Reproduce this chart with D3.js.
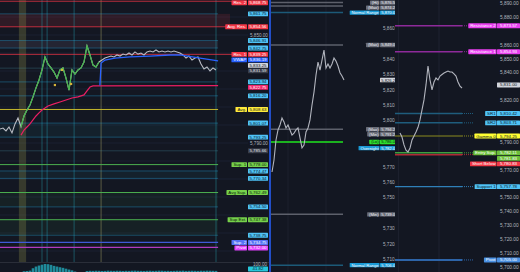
<!DOCTYPE html>
<html>
<head>
<meta charset="utf-8">
<script src="https://cdn.jsdelivr.net/npm/d3@7"></script>
<style>
  body { margin: 0; background: #131722; }
  svg { display: block; }
  text { font-family: "Liberation Sans", Arial, sans-serif; }
</style>
</head>
<body>
<svg id="chart" width="520" height="272"></svg>
<script>
// ---- data ----

// left panel: closes per bar
const p1Price = [5797.8, 5798.3, 5796.7, 5798.9, 5795.6, 5800.6, 5803.9, 5799.0, 5805.0, 5808.3,
  5811.1, 5815.6, 5820.6, 5825.0, 5830.6, 5837.8, 5833.9, 5831.7, 5829.4, 5826.1,
  5830.6, 5831.7, 5826.1, 5819.4, 5830.6, 5828.3, 5830.6, 5831.7, 5835.0, 5843.9,
  5838.9, 5833.3, 5832.2, 5835.0, 5836.1, 5837.2, 5837.8, 5838.3, 5837.8, 5838.9,
  5838.3, 5839.4, 5838.9, 5840.0, 5838.9, 5840.6, 5839.4, 5840.0, 5838.9, 5840.6,
  5841.1, 5840.6, 5841.7, 5840.6, 5841.1, 5840.6, 5841.1, 5840.6, 5841.1, 5840.6,
  5840.0, 5838.9, 5837.2, 5838.3, 5836.1, 5837.2, 5837.8, 5833.9, 5831.1, 5832.2,
  5830.0, 5831.7, 5830.6];
const p1GreenRange = [7, 33];
const p1Vwap = [[33.3, 5821.9], [33.7, 5834.4], [35, 5836.1], [38.3, 5837.2], [43.3, 5837.8],
  [50, 5838.3], [56.7, 5838.9], [60, 5838.9], [66.7, 5837.2], [72.7, 5835.6]];
const p1Base = [[7, 5794.4], [8, 5797.2], [9, 5798.9], [10, 5800.6], [11, 5802.8], [12, 5805.0],
  [13, 5806.7], [14, 5808.3], [15, 5809.4], [16, 5810.6], [18, 5811.7], [20, 5812.8],
  [22, 5813.9], [24, 5815.0], [26, 5815.6], [28, 5816.7], [29, 5818.9], [30, 5821.1],
  [31, 5821.7], [72.7, 5821.9]];
const p1Dots = [[18.3, 5822.2], [20.7, 5830.6], [23.7, 5822.8]];
const p1HistStart = 8;
const p1Hist = [15, 18, 22, 50, 70, 82, 92, 100, 98, 90, 78, 70, 62, 55, 45, 35, 25, 12, 0, 0, 0,
  18, 20, 19, 21, 20, 18, 19, 22, 20, 19, 21, 20, 18, 20, 19, 21, 22, 20, 19, 18, 20, 21,
  19, 20, 22, 21, 19, 20, 18, 19, 21, 20, 22, 19, 20, 21, 20, 19, 21, 20, 22, 21, 20, 19];
const p1Band = [6.3, 8.7];
const p1TealMarks = [14, 15.7, 24.7, 72];
const p1OliveMarks = [33.7];
const p1Ticks = [5730, 5740, 5750, 5760, 5770, 5780, 5790, 5800, 5810, 5820, 5830, 5840, 5850, 5860];
const p1Levels = [
  ["Res. 2", 5868.75, "red"], ["", 5861.75, "cyan"], ["Avg. Res.", 5854.56, "red"],
  ["", 5846.91, "cyan"], ["", 5842.75, "cyan"], ["Res. 1", 5839.25, "red"],
  ["VWAP", 5836.19, "vwap"], ["", 5833.25, "last"], ["", 5831.59, "dark"],
  ["", 5823.94, "cyan"], ["", 5822.75, "pink"], ["", 5816.20, "cyan"],
  ["Avg.", 5808.63, "yellow"], ["", 5801.07, "cyan"], ["", 5793.25, "cyan"],
  ["", 5785.66, "dark"], ["Sup. 1", 5778.00, "green"], ["", 5774.47, "cyan"],
  ["", 5770.34, "cyan"], ["Avg Sup.", 5762.49, "green"], ["", 5754.50, "cyan"],
  ["Sup Ext.", 5747.38, "green"], ["", 5738.75, "cyan"], ["Sup. 2", 5734.75, "blue"],
  ["Pivot", 5732.00, "magenta"]
];
const p1Zones = [[5861.75, 5854.56, "red"], [5846.91, 5842.75, "gray"], [5801.07, 5793.25, "teal"],
  [5774.47, 5770.34, "teal"], [5762.49, 5754.50, "green"], [5747.38, 5738.75, "green"]];
const p1PaneTicks = [100];
const p1PaneLast = 41.82;

// middle panel
const p2Price = [5766.5, 5774.3, 5787.3, 5793.8, 5797.0, 5801.6, 5799.0, 5795.1, 5797.0, 5793.8,
  5790.5, 5791.8, 5793.8, 5795.1, 5788.6, 5782.1, 5784.0, 5792.5, 5795.1, 5800.3,
  5810.0, 5818.4, 5829.5, 5837.9, 5832.7, 5839.2, 5845.7, 5834.0, 5836.6, 5834.0,
  5836.6, 5840.5, 5838.5, 5835.3, 5831.0, 5828.8, 5826.2];
const p2Ticks = [5710, 5720, 5730, 5740, 5750, 5760, 5770, 5780, 5790, 5800, 5810, 5820,
  5830, 5840, 5850, 5860, 5870, 5880];
const p2Levels = [
  ["(Hi)", 5876.50, "gray"], ["(Max)", 5874.25, "gray"], ["Normal Range", 5870.00, "range"],
  ["(Max)", 5849.00, "gray"], ["", 5826.20, "last"], ["(Max)", 5794.25, "gray"],
  ["(Min)", 5791.25, "grayTag"], ["(Lo)", 5786.00, "lime"], ["Overnight", 5782.00, "rangeTag"],
  ["(Min)", 5739.00, "gray"], ["Normal Range", 5706.00, "range"]
];
const p2Grid = [8, 27];

// right panel
const p3Price = [5796.4, 5793.5, 5787.8, 5784.0, 5782.7, 5785.6, 5791.4, 5794.2, 5797.1, 5800.5,
  5805.8, 5813.0, 5820.2, 5831.0, 5844.6, 5834.6, 5827.4, 5833.1, 5836.0, 5834.6,
  5837.4, 5838.5, 5839.6, 5840.3, 5841.0, 5840.3, 5840.3, 5838.9, 5837.4, 5833.1,
  5830.2, 5828.8];
const p3Ticks = [5700, 5710, 5720, 5730, 5740, 5750, 5760, 5770, 5780, 5790, 5800, 5810,
  5820, 5830, 5840, 5850, 5860, 5870, 5880, 5890];
const p3Levels = [
  ["Resistance 2", 5873.57, "res"], ["Resistance 1", 5854.93, "res"], ["", 5831.00, "last"],
  ["SR1", 5810.42, "sr"], ["SR2", 5803.71, "sr"], ["Gamma 0", 5794.25, "gamma"],
  ["Entry Sup.", 5782.11, "entry"], ["", 5781.83, "entryTag"], ["Short Below", 5780.83, "short"],
  ["Support 1", 5757.78, "sup"], ["Pivot", 5705.00, "pivot"]
];
const p3Grid = [-0.8, 19.5];

// ---- styles ----
const styles = {
  red:      { line: "rgba(242,54,69,0.75)", lw: 1, box: "#f23645", txt: "#fff", long: true },
  cyan:     { line: "rgba(41,182,246,0.32)", lw: 1, box: "#4fc3f7", txt: "#0d1b2a" },
  vwap:     { line: null, box: "#2962ff", txt: "#fff" },
  last:     { line: null, box: "#d1d4dc", txt: "#131722" },
  dark:     { line: "rgba(80,160,180,0.28)", lw: 1, box: "#3a3e4a", txt: "#e0e3eb" },
  pink:     { line: null, box: "#f0246a", txt: "#fff" },
  yellow:   { line: "#c6b82c", lw: 1, box: "#ffeb3b", txt: "#131722" },
  green:    { line: "#4caf50", lw: 1, box: "#76d14b", txt: "#0d1a0d" },
  blue:     { line: "#3f5bd8", lw: 1.2, box: "#5472f5", txt: "#fff" },
  magenta:  { line: "#b23cc0", lw: 1.2, box: "#e040fb", txt: "#fff" },
  gray:     { line: "#5d606b", lw: 1.5, box: "#6a6d78", txt: "#e8eaf0" },
  grayTag:  { line: null, box: "#6a6d78", txt: "#e8eaf0" },
  range:    { line: "#1c5a78", lw: 1.5, box: "#1a9ad6", txt: "#fff" },
  rangeTag: { line: null, box: "#1a9ad6", txt: "#fff" },
  lime:     { line: "#1fe61f", lw: 1.5, box: "#2ee02e", txt: "#0d1a0d" },
  res:      { line: "#8e2a9a", lw: 1.5, box: "#ea3ff0", txt: "#fff" },
  sr:       { line: "#1f5d7d", lw: 1.5, box: "#4fc3f7", txt: "#0d1b2a" },
  sup:      { line: "#2f7fb8", lw: 1.2, box: "#4fc3f7", txt: "#0d1b2a" },
  gamma:    { line: "#8c8c1e", lw: 1.2, box: "#ffff33", txt: "#131722" },
  entry:    { line: "#3f9f3f", lw: 1.5, box: "#6cbf3a", txt: "#fff" },
  entryTag: { line: null, box: "#6cbf3a", txt: "#fff" },
  short:    { line: "#b02a36", lw: 1.5, box: "#f23645", txt: "#fff" },
  pivot:    { line: "#2d64a8", lw: 2, box: "#4a90e2", txt: "#fff" }
};
const zoneFill = { red: "rgba(242,54,69,0.13)", gray: "rgba(190,170,210,0.10)",
  teal: "rgba(38,166,184,0.07)", green: "rgba(76,175,80,0.07)" };

const fmt = d3.format(",.2f");
const svg = d3.select("#chart");
svg.append("rect").attr("width", 520).attr("height", 272).attr("fill", "#131722");

// stack labels downward so boxes never overlap
function layoutLabels(levels, y, h) {
  const items = levels.map(d => ({ name: d[0], value: d[1], st: styles[d[2]], y: y(d[1]) }))
    .sort((a, b) => a.y - b.y);
  for (let i = 1; i < items.length; i++) {
    if (items[i].y < items[i - 1].y + h) items[i].y = items[i - 1].y + h;
  }
  if (items.length && items[0].y < h / 2) {
    items[0].y = h / 2;
    for (let i = 1; i < items.length; i++) {
      if (items[i].y < items[i - 1].y + h) items[i].y = items[i - 1].y + h;
    }
  }
  return items;
}

// tick labels hidden where a label box sits (like the price scale does)
function drawTicks(g, y, ticks, x, size, items, h) {
  const free = ticks.filter(t => {
    const ty = y(t);
    if (ty < 2.5 || ty > 270) return false;
    return !items.some(d => Math.abs(d.y - ty) < h * 0.95);
  });
  const ax = g.append("g")
    .attr("transform", `translate(${x},0)`)
    .call(d3.axisRight(y).tickValues(free).tickFormat(fmt).tickSize(0).tickPadding(0));
  ax.select(".domain").remove();
  ax.attr("font-size", size).attr("font-family", "Liberation Sans, Arial, sans-serif");
  ax.selectAll("text").attr("fill", "#b2b5be");
}

function drawLabels(g, items, o) {
  items.forEach(d => {
    const gg = g.append("g").attr("transform", `translate(0,${d.y})`);
    gg.append("rect").attr("x", o.boxX).attr("y", -o.h / 2 + 0.3)
      .attr("width", o.boxW).attr("height", o.h - 0.6).attr("rx", 0.6).attr("fill", d.st.box);
    gg.append("text").attr("x", o.anchor === "start" ? o.boxX + 1.2 : o.boxX + o.boxW / 2)
      .attr("text-anchor", o.anchor || "middle").attr("dy", "0.35em")
      .attr("font-size", o.fs).attr("fill", d.st.txt).text(fmt(d.value));
    if (d.name) {
      const t = gg.append("text").attr("x", o.tagRight - 1.4).attr("text-anchor", "end")
        .attr("dy", "0.35em").attr("font-size", o.fs).attr("fill", d.st.txt).text(d.name);
      const w = t.node().getComputedTextLength() + 2.8;
      gg.insert("rect", ":first-child").attr("x", o.tagRight - w - 0.5).attr("y", -o.h / 2 + 0.3)
        .attr("width", w).attr("height", o.h - 0.6).attr("rx", 0.6).attr("fill", d.st.box);
    }
  });
}

// ================= panel 1 =================
const y1 = d3.scaleLinear().domain([5860, 5750]).range([17, 215]);
const x1 = d3.scaleLinear().domain([0, 72]).range([0, 216]);
const yv = d3.scaleLinear().domain([0, 100]).range([272.5, 264]);
const g1 = svg.append("g");
const x1End = x1(72.7);

g1.selectAll(".grid").data(p1Ticks).join("line")
  .attr("x1", 0).attr("x2", 248).attr("y1", d => y1(d)).attr("y2", d => y1(d))
  .attr("stroke", "#1b2030").attr("stroke-width", 1);

g1.selectAll(".zone").data(p1Zones).join("rect")
  .attr("x", 0).attr("width", d => d[2] === "red" ? 230 : x1End)
  .attr("y", d => y1(d[0])).attr("height", d => y1(d[1]) - y1(d[0]))
  .attr("fill", d => zoneFill[d[2]]);

g1.append("rect").attr("x", x1(p1Band[0])).attr("width", x1(p1Band[1]) - x1(p1Band[0]))
  .attr("y", 0).attr("height", 263).attr("fill", "rgba(130,130,70,0.33)");
g1.selectAll(".vt").data(p1TealMarks).join("line")
  .attr("x1", d => x1(d)).attr("x2", d => x1(d)).attr("y1", 0).attr("y2", 263)
  .attr("stroke", "rgba(38,166,184,0.42)").attr("stroke-width", 1);
g1.selectAll(".vo").data(p1OliveMarks).join("line")
  .attr("x1", d => x1(d)).attr("x2", d => x1(d)).attr("y1", 0).attr("y2", 263)
  .attr("stroke", "rgba(150,150,95,0.45)").attr("stroke-width", 1.2);

g1.selectAll(".lvl").data(p1Levels.filter(d => styles[d[2]].line)).join("line")
  .attr("x1", 0).attr("x2", d => styles[d[2]].long ? 232 : x1End)
  .attr("y1", d => y1(d[1])).attr("y2", d => y1(d[1]))
  .attr("stroke", d => styles[d[2]].line).attr("stroke-width", d => styles[d[2]].lw);

const line1 = d3.line().x((d, i) => x1(i)).y(d => y1(d));
g1.append("path").attr("d", line1(p1Price)).attr("fill", "none")
  .attr("stroke", "#b9bcc4").attr("stroke-width", 1.1);
const greenPts = p1Price.map((v, i) => [i, v]).slice(p1GreenRange[0], p1GreenRange[1] + 1);
const linePairs = d3.line().x(d => x1(d[0])).y(d => y1(d[1]));
g1.append("path").attr("d", linePairs(greenPts)).attr("fill", "none")
  .attr("stroke", "#43b649").attr("stroke-width", 1.2);
g1.append("path").attr("d", linePairs(p1Base)).attr("fill", "none")
  .attr("stroke", "#e91e63").attr("stroke-width", 1.2);
g1.append("path").attr("d", linePairs(p1Vwap)).attr("fill", "none")
  .attr("stroke", "#2962ff").attr("stroke-width", 1.3);
g1.selectAll(".dot").data(p1Dots).join("rect")
  .attr("x", d => x1(d[0]) - 1.1).attr("y", d => y1(d[1]) - 1.1)
  .attr("width", 2.2).attr("height", 2.2).attr("fill", "#d4b33a");

g1.append("line").attr("x1", 0).attr("x2", 269).attr("y1", 262.5).attr("y2", 262.5)
  .attr("stroke", "#2a2e39").attr("stroke-width", 1);
g1.selectAll(".hist").data(p1Hist).join("rect")
  .attr("x", (d, i) => x1(i + p1HistStart) - 1.3).attr("width", 2.6)
  .attr("y", d => yv(d)).attr("height", d => yv(0) - yv(d))
  .attr("fill", "#1f8a9a");

const items1 = layoutLabels(p1Levels, y1, 5.5);
drawTicks(g1, y1, p1Ticks, 250, 4.6, items1, 5.5);
drawTicks(g1, yv, p1PaneTicks, 253, 4.6, [], 5);
drawLabels(g1, items1, { boxX: 248, boxW: 20, tagRight: 247.5, h: 5.5, fs: 4.4 });
g1.append("rect").attr("x", 248).attr("y", yv(p1PaneLast) - 2.5).attr("width", 20).attr("height", 5)
  .attr("rx", 0.6).attr("fill", "#26c6da");
g1.append("text").attr("x", 258).attr("y", yv(p1PaneLast)).attr("dy", "0.35em")
  .attr("text-anchor", "middle").attr("font-size", 4.4).attr("fill", "#0d1b2a").text(fmt(p1PaneLast));

svg.append("line").attr("x1", 270).attr("x2", 270).attr("y1", 0).attr("y2", 272)
  .attr("stroke", "#2962ff").attr("stroke-width", 1.5);

// ================= panel 2 =================
svg.append("clipPath").attr("id", "clip2").append("rect")
  .attr("x", 271).attr("y", 0).attr("width", 124).attr("height", 272);
const g2 = svg.append("g").attr("clip-path", "url(#clip2)");
const y2 = d3.scaleLinear().domain([5860, 5710]).range([28, 259]);
const x2 = d3.scaleLinear().domain([0, 36]).range([272, 344]);

g2.selectAll(".vg").data(p2Grid).join("line")
  .attr("x1", d => x2(d)).attr("x2", d => x2(d)).attr("y1", 0).attr("y2", 272)
  .attr("stroke", "#1c202c");
g2.selectAll(".lvl").data(p2Levels.filter(d => styles[d[2]].line)).join("line")
  .attr("x1", 271).attr("x2", 343)
  .attr("y1", d => y2(d[1])).attr("y2", d => y2(d[1]))
  .attr("stroke", d => styles[d[2]].line).attr("stroke-width", d => styles[d[2]].lw);
g2.append("path").attr("d", d3.line().x((d, i) => x2(i)).y(d => y2(d))(p2Price))
  .attr("fill", "none").attr("stroke", "#b2b5be").attr("stroke-width", 1.1);
const items2 = layoutLabels(p2Levels, y2, 5);
drawTicks(g2, y2, p2Ticks, 383, 4.6, items2, 5);
drawLabels(g2, items2, { boxX: 380, boxW: 20, tagRight: 380, h: 5, fs: 4.2, anchor: "start" });

// ================= panel 3 =================
const g3 = svg.append("g");
const y3 = d3.scaleLinear().domain([5800, 5710]).range([128, 253]);
const x3 = d3.scaleLinear().domain([0, 31]).range([400, 462]);

g3.selectAll(".vg").data(p3Grid).join("line")
  .attr("x1", d => x3(d)).attr("x2", d => x3(d)).attr("y1", 0).attr("y2", 272)
  .attr("stroke", "#1e2230");
const lv3 = p3Levels.filter(d => styles[d[2]].line);
g3.selectAll(".lvl").data(lv3).join("line")
  .attr("x1", 395).attr("x2", 462)
  .attr("y1", d => y3(d[1])).attr("y2", d => y3(d[1]))
  .attr("stroke", d => styles[d[2]].line).attr("stroke-width", d => styles[d[2]].lw);
g3.selectAll(".lvd").data(lv3).join("line")
  .attr("x1", 462).attr("x2", 474)
  .attr("y1", d => y3(d[1])).attr("y2", d => y3(d[1]))
  .attr("stroke", d => styles[d[2]].line).attr("stroke-width", 1)
  .attr("stroke-dasharray", "1,1");
g3.append("path").attr("d", d3.line().x((d, i) => x3(i)).y(d => y3(d))(p3Price))
  .attr("fill", "none").attr("stroke", "#b2b5be").attr("stroke-width", 1.1);
const items3 = layoutLabels(p3Levels, y3, 5.5);
drawTicks(g3, y3, p3Ticks, 500, 4.8, items3, 5.5);
drawLabels(g3, items3, { boxX: 497, boxW: 23, tagRight: 497, h: 5.5, fs: 4.4 });
</script>
</body>
</html>
